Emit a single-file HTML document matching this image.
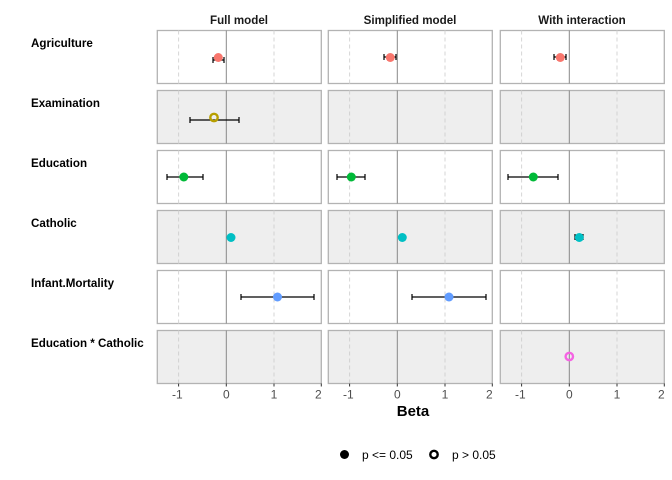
<!DOCTYPE html><html><head><style>body{margin:0;background:#fff}svg{display:block;font-family:"Liberation Sans",sans-serif}</style></head><body>
<svg width="672" height="480" viewBox="0 0 672 480">
<defs>
<g id="pw"><rect x="0" y="0" width="164" height="53" fill="#fff" stroke="#b3b3b3" stroke-width="1.3"/><line x1="21.3" y1="0" x2="21.3" y2="53" stroke="#d6d6d6" stroke-dasharray="4,3"/><line x1="116.7" y1="0" x2="116.7" y2="53" stroke="#d6d6d6" stroke-dasharray="4,3"/><line x1="69" y1="0" x2="69" y2="53" stroke="#888"/></g>
<g id="pg"><rect x="0" y="0" width="164" height="53" fill="#eeeeee" stroke="#b3b3b3" stroke-width="1.3"/><line x1="21.3" y1="0" x2="21.3" y2="53" stroke="#d2d2d2" stroke-dasharray="4,3"/><line x1="116.7" y1="0" x2="116.7" y2="53" stroke="#d2d2d2" stroke-dasharray="4,3"/><line x1="69" y1="0" x2="69" y2="53" stroke="#888"/></g>
<g id="ax"><line x1="21.3" y1="53" x2="21.3" y2="56" stroke="#333"/><line x1="69" y1="53" x2="69" y2="56" stroke="#333"/><line x1="116.7" y1="53" x2="116.7" y2="56" stroke="#333"/><line x1="164" y1="53" x2="164" y2="56" stroke="#333"/>
<g font-size="12" fill="#4d4d4d" text-anchor="middle"><text x="20" y="68">-1</text><text x="69" y="68">0</text><text x="116.7" y="68">1</text><text x="161" y="68">2</text></g></g>
</defs>
<g font-size="11.6" font-weight="bold" fill="#000">
<text x="31" y="47">Agriculture</text><text x="31" y="107">Examination</text><text x="31" y="167">Education</text><text x="31" y="227">Catholic</text><text x="31" y="287">Infant.Mortality</text><text x="31" y="347">Education * Catholic</text>
</g>
<g font-size="11.6" font-weight="bold" text-anchor="middle" fill="#1a1a1a">
<text x="239" y="24">Full model</text><text x="410" y="24">Simplified model</text><text x="582" y="24">With interaction</text>
</g>
<g transform="translate(157.3,0)">
<use href="#pw" y="30.5"/><use href="#pg" y="90.5"/><use href="#pw" y="150.5"/><use href="#pg" y="210.5"/><use href="#pw" y="270.5"/><use href="#pg" y="330.5"/>
<use href="#ax" y="330.5"/>
<g stroke="#000" stroke-width="1.2" fill="none">
<path d="M55.7 57v6M55.7 60H66.7M66.7 57v6"/>
<path d="M32.7 117v6M32.7 120H81.7M81.7 117v6"/>
<path d="M9.7 174v6M9.7 177H45.7M45.7 174v6"/>
<path d="M83.7 294v6M83.7 297H156.7M156.7 294v6"/>
</g>
<circle cx="61" cy="57.5" r="4.5" fill="#F8766D"/>
<circle cx="56.7" cy="117.5" r="3.7" fill="none" stroke="#B79F00" stroke-width="2.4"/>
<circle cx="26.5" cy="177" r="4.5" fill="#00BA38"/>
<circle cx="73.7" cy="237.5" r="4.5" fill="#00BFC4"/>
<circle cx="120.2" cy="297" r="4.5" fill="#619CFF"/>
</g>
<g transform="translate(328.3,0)">
<use href="#pw" y="30.5"/><use href="#pg" y="90.5"/><use href="#pw" y="150.5"/><use href="#pg" y="210.5"/><use href="#pw" y="270.5"/><use href="#pg" y="330.5"/>
<use href="#ax" y="330.5"/>
<g stroke="#000" stroke-width="1.2" fill="none">
<path d="M55.7 54v6M55.7 57H67.7M67.7 54v6"/>
<path d="M8.7 174v6M8.7 177H36.7M36.7 174v6"/>
<path d="M83.7 294v6M83.7 297H157.7M157.7 294v6"/>
</g>
<circle cx="62" cy="57.5" r="4.5" fill="#F8766D"/>
<circle cx="23" cy="177" r="4.5" fill="#00BA38"/>
<circle cx="74" cy="237.5" r="4.5" fill="#00BFC4"/>
<circle cx="120.7" cy="297" r="4.5" fill="#619CFF"/>
</g>
<g transform="translate(500.3,0)">
<use href="#pw" y="30.5"/><use href="#pg" y="90.5"/><use href="#pw" y="150.5"/><use href="#pg" y="210.5"/><use href="#pw" y="270.5"/><use href="#pg" y="330.5"/>
<use href="#ax" y="330.5"/>
<g stroke="#000" stroke-width="1.2" fill="none">
<path d="M53.7 54v6M53.7 57H65.7M65.7 54v6"/>
<path d="M7.7 174v6M7.7 177H57.7M57.7 174v6"/>
<path d="M74.7 234v6M74.7 237H82.7M82.7 234v6"/>
</g>
<circle cx="60" cy="57.5" r="4.5" fill="#F8766D"/>
<circle cx="33" cy="177" r="4.5" fill="#00BA38"/>
<circle cx="79" cy="237.5" r="4.5" fill="#00BFC4"/>
<circle cx="69" cy="356.5" r="3.7" fill="none" stroke="#F564E3" stroke-width="2.4"/>
</g>
<text x="413" y="416" font-size="15" font-weight="bold" text-anchor="middle">Beta</text>
<circle cx="344.5" cy="454.5" r="4.5" fill="#000"/>
<text x="362" y="459" font-size="12" fill="#000">p &lt;= 0.05</text>
<circle cx="434" cy="454.5" r="3.7" fill="none" stroke="#000" stroke-width="2.4"/>
<text x="452" y="459" font-size="12" fill="#000">p &gt; 0.05</text>
</svg>
</body></html>
